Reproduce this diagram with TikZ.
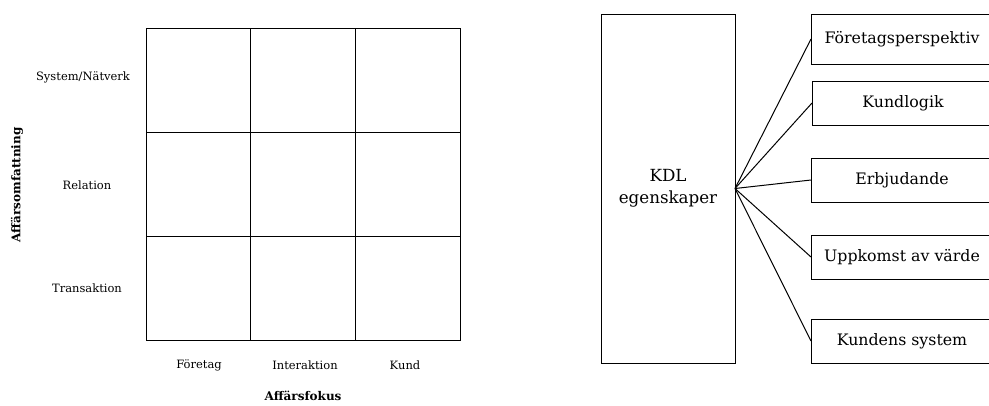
\documentclass[tikz,border=0pt]{standalone}
\usepackage{fontspec}
\setmainfont{DejaVu Serif}
\begin{document}
\begin{tikzpicture}[x=1pt,y=-1pt,
  cell/.style={draw,line width=1pt,minimum width=104.67pt,minimum height=104.33pt,inner sep=0pt,outer sep=0pt,anchor=north west},
  rowlab/.style={font=\fontsize{11.5}{13}\selectfont},
  axlab/.style={font=\fontsize{12}{14}\selectfont\bfseries},
  kbox/.style={draw,line width=1pt,minimum width=182pt,inner sep=0pt,outer sep=0pt,anchor=north west,font=\fontsize{15.8}{18}\selectfont},
  conn/.style={line width=1pt}]
\useasboundingbox (0,0) rectangle (989,405);
\clip (0,0) rectangle (989,405);
% grid
\foreach \r [count=\ri from 0] in {a,b,c}{
  \foreach \c [count=\ci from 0] in {1,2,3}{
    \node[cell] (g\r\c) at (146+104.67*\ci, 28+104.33*\ri) {};
  }
}
\node[rowlab] (sys) at (83,77) {System/Nätverk};
\node[rowlab] (rel) at (87,185) {Relation};
\node[rowlab] (tra) at (87,288) {Transaktion};
\node[axlab,rotate=90] (omf) at (17,185) {Affärsomfattning};
\node[rowlab] (fo) at (199,365) {Företag};
\node[rowlab] (in) at (305,365) {Interaktion};
\node[rowlab] (ku) at (405,365) {Kund};
\node[axlab] (fok) at (303,396) {Affärsfokus};
% right
\node[draw,line width=1pt,minimum width=134pt,minimum height=349pt,inner sep=0pt,outer sep=0pt,anchor=north west,align=center,font=\fontsize{16.7}{22}\selectfont] (kdl) at (601,14) {KDL\\egenskaper};
\node[kbox,minimum height=50pt] (b1) at (811,14) {Företagsperspektiv};
\node[kbox,minimum height=44pt] (b2) at (812,81) {Kundlogik};
\node[kbox,minimum height=44pt] (b3) at (811,158) {Erbjudande};
\node[kbox,minimum height=44pt] (b4) at (811,235) {Uppkomst av värde};
\node[kbox,minimum height=44pt] (b5) at (811,319) {Kundens system};
\foreach \b in {b1,b2,b3,b4,b5}{\draw[conn] (kdl.east) -- (\b.west);}
\end{tikzpicture}
\end{document}
